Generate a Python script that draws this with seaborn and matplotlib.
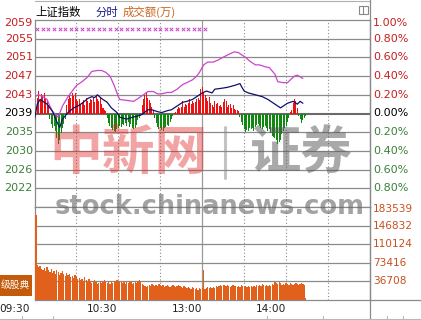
import matplotlib
matplotlib.use('Agg')
import numpy as np
import pandas as pd
import seaborn as sns
import matplotlib.pyplot as plt
from matplotlib.patches import Rectangle
import matplotlib.transforms as mtransforms

sns.set_theme(style='white')
plt.rcParams['font.family'] = ['DejaVu Sans', 'Noto Sans CJK SC']
plt.rcParams['axes.unicode_minus'] = False

# ---------------- data ----------------
title_parts = ['上证指数', '分时', '成交额(万)']
price_tick_pct = [1.0, 0.8, 0.6, 0.4, 0.2, 0.0, -0.2, -0.4, -0.6, -0.8]
price_tick_labels = ['2059', '2055', '2051', '2047', '2043', '2039', '2035', '2030', '2026', '2022']
pct_tick_labels = ['1.00%', '0.80%', '0.60%', '0.40%', '0.20%', '0.00%', '0.20%', '0.40%', '0.60%', '0.80%']
vol_ticks = [183539, 146832, 110124, 73416, 36708]
vol_tick_labels = ['183539', '146832', '110124', '73416', '36708']
time_tick_minutes = [0, 60, 120, 180]
time_tick_labels = ['09:30', '10:30', '13:00', '14:00']
button_text = '级股典'
watermark_cn_red = '中新网'
watermark_cn_gray = '证券'
watermark_url = 'stock.chinanews.com'

# index line (% change vs previous close), minutes after 09:30 (trading minutes)
index_min = [0, 2, 4, 6, 9, 11, 13, 16, 18, 20, 24, 28, 31, 35, 38, 41, 43, 45, 48, 52,
             55, 59, 61, 66, 70, 73, 77, 81, 84, 88, 91, 95, 98, 102, 106, 109, 113, 116,
             120, 123, 127, 129, 134, 138, 143, 147, 148, 150, 153, 158, 163, 167, 172,
             176, 178, 181, 185, 188, 190, 192]
index_pct = [-0.06, 0.10, 0.15, 0.13, 0.10, 0.06, 0.02, -0.09, -0.15, -0.06, 0.01, 0.06,
             0.08, 0.12, 0.16, 0.18, 0.17, 0.20, 0.16, 0.12, 0.06, 0.01, -0.04, -0.06,
             -0.04, -0.03, -0.01, 0.04, 0.04, 0.02, 0.01, 0.03, 0.04, 0.08, 0.12, 0.13,
             0.15, 0.18, 0.22, 0.24, 0.22, 0.26, 0.27, 0.28, 0.30, 0.32, 0.29, 0.24, 0.22,
             0.20, 0.18, 0.15, 0.10, 0.06, 0.08, 0.11, 0.13, 0.10, 0.13, 0.11]

# unweighted line (magenta)
avg_min = [0, 3, 6, 9, 11, 13, 15, 17, 20, 24, 28, 30, 34, 38, 41, 45, 48, 51, 54, 57,
           60, 61, 66, 71, 74, 78, 81, 85, 88, 91, 95, 98, 102, 106, 109, 113, 116, 118,
           121, 124, 128, 131, 136, 140, 143, 146, 148, 151, 154, 158, 161, 165, 168,
           172, 174, 178, 181, 183, 186, 188, 192]
avg_pct = [0.18, 0.20, 0.18, 0.15, 0.08, 0.02, -0.01, -0.04, 0.08, 0.18, 0.26, 0.30,
           0.34, 0.39, 0.45, 0.46, 0.46, 0.44, 0.40, 0.30, 0.18, 0.15, 0.14, 0.13, 0.16,
           0.20, 0.235, 0.235, 0.21, 0.21, 0.225, 0.225, 0.26, 0.31, 0.33, 0.36, 0.40,
           0.44, 0.52, 0.55, 0.55, 0.57, 0.61, 0.64, 0.66, 0.65, 0.63, 0.60, 0.56, 0.52,
           0.52, 0.50, 0.49, 0.42, 0.34, 0.33, 0.33, 0.36, 0.40, 0.41, 0.375]

# up/down strength bars (red > 0, green < 0), one per minute from 09:30
strength = [0.19, 0.17, 0.24, 0.15, 0.21, 0.18, 0.22, 0.16, 0.14, 0.09,
            -0.06, -0.11, -0.15, -0.13, -0.19, -0.26, -0.33, -0.28, -0.21, -0.15, -0.11, -0.06,
            0.09, 0.15, 0.20, 0.17, 0.22, 0.19, 0.22, 0.16, 0.13, 0.15, 0.10, 0.12, 0.14, 0.09,
            0.17, 0.13, 0.11, 0.15, 0.14, 0.17, 0.12, 0.20, 0.16, 0.13, 0.18, 0.10, 0.06, 0.04, 0.03,
            -0.05, -0.10, -0.13, -0.15, -0.18, -0.19, -0.20, -0.17, -0.15, -0.13, -0.14, -0.11,
            -0.12, -0.10, -0.13, -0.09, -0.14, -0.11, -0.15, -0.17, -0.16, -0.12, -0.07, -0.05, -0.03,
            0.09, 0.15, 0.20, 0.22, 0.17, 0.14, 0.11, 0.07, 0.04,
            -0.05, -0.10, -0.14, -0.17, -0.15, -0.18, -0.19, -0.16, -0.14, -0.12, -0.13, -0.09, -0.06, -0.03,
            0.01, 0.02, 0.05, 0.07, 0.06, 0.07, 0.13, 0.07, 0.10, 0.09, 0.11, 0.15, 0.10, 0.13,
            0.11, 0.12, 0.15, 0.17, 0.14, 0.26, 0.28, 0.22, 0.20, 0.17, 0.13, 0.18, 0.11, 0.09,
            0.07, 0.13, 0.10, 0.11, 0.08, 0.09, 0.07, 0.12, 0.15, 0.13, 0.07, 0.09, 0.10, 0.06,
            0.09, 0.05, 0.04, 0.04, 0.03,
            -0.04, -0.09, -0.12, -0.17, -0.20, -0.18, -0.19, -0.16, -0.17, -0.15, -0.19, -0.14,
            -0.12, -0.11, -0.13, -0.15, -0.17, -0.14, -0.13, -0.16, -0.19, -0.17, -0.21, -0.24,
            -0.25, -0.26, -0.28, -0.33, -0.30, -0.28, -0.22, -0.19, -0.16, -0.13, -0.09, -0.05,
            0.02, 0.04, 0.11, 0.15, 0.13, 0.06,
            -0.03, -0.06, -0.10, -0.07, -0.05, -0.03]

# turnover per minute (万)
turnover = [167700,
            69100, 65100, 67100, 61200, 59200, 63200, 57200, 65100, 59200, 55300,
            61200, 53300, 57200, 51300, 59200, 55300, 49300, 53300, 57200, 51300,
            47400, 53300, 49300, 51300, 45400, 47400, 43400, 49300, 45400, 41400,
            43400, 39500, 41400, 37500, 45400, 39500, 35500, 41400, 37500, 33500,
            35500, 39500, 35500, 31600, 33500, 37500, 33500, 35500, 39500, 35500,
            33500, 37500, 31600, 35500, 33500, 37500, 35500, 39500, 37500, 35500,
            37500, 33500, 35500, 31600, 35500, 33500, 37500, 35500, 31600, 33500,
            35500, 33500, 37500, 39500, 35500, 31600, 29600, 27600, 25700, 27600,
            29600, 27600, 31600, 29600, 27600,
            29600, 27600, 31600, 29600, 27600, 29600, 25700, 27600, 29600, 27600,
            25700, 27600, 29600, 27600, 25700, 27600, 29600, 27600, 25700, 23700,
            27600, 25700, 23700, 25700, 23700, 21700, 25700, 23700, 21700, 23700,
            19700, 23700, 21700, 23700,
            59200,
            21700, 23700, 25700, 23700, 25700, 23700, 25700, 23700, 27600, 25700,
            27600, 29600, 27600, 29600, 29600, 27600, 29600, 27600, 25700, 27600,
            29600, 27600, 27600, 25700, 27600, 25700, 29600, 27600, 25700, 27600,
            25700, 27600, 25700, 27600, 25700, 27600, 25700, 29600, 27600, 29600,
            27600, 31600, 29600, 27600, 29600, 27600, 29600, 27600, 31600, 29600,
            35500, 33500, 31600, 35500, 33500, 29600, 31600, 29600, 33500, 31600,
            29600, 33500, 31600, 29600, 31600, 33500, 31600, 29600, 31600, 33500,
            31600, 29600, 3900]

signal_minutes = [2, 6, 10, 14, 18, 22, 26, 30, 34, 38, 42, 46, 50, 54, 58, 62, 66, 70,
                  74, 78, 82, 86, 90, 94, 98, 102, 106, 110, 114, 118, 122]
signal_level = 0.905

# ---------------- styles ----------------
W, H = 421, 320
GRID = '#8a8a8a'
RED_TXT = '#c81e1e'
GREEN_TXT = '#3a803a'
VOL_TXT = '#c8501e'
NAVY = '#10106e'
MAGENTA = '#cc44cc'
BAR_RED = '#ee1111'
BAR_GREEN = '#118811'
VOL_COLOR = '#e0601c'
BAR_SHIFT = 1.0  # bars sit just right of their minute mark

fig = plt.figure(figsize=(W / 100, H / 100), dpi=100)
fig.patch.set_facecolor('white')


def px_axes(x0, y0, x1, y1, **kw):
    return fig.add_axes([x0 / W, 1 - y1 / H, (x1 - x0) / W, (y1 - y0) / H], **kw)


ax = px_axes(34.5, 20, 370, 207)
axv = px_axes(34.5, 207, 370, 300)

for a in (ax, axv):
    a.set_xlim(0, 240)
    a.set_xticks([])
    a.set_yticks([])
    a.set_facecolor('white')
    for s in a.spines.values():
        s.set_color(GRID)
        s.set_linewidth(0.9)
    for m in [30, 60, 90, 150, 180, 210]:
        a.axvline(m, color=GRID, lw=0.8, ls=(0, (1, 2)), zorder=1)
    a.axvline(120, color='#9a9a9a', lw=0.9, zorder=1)

ax.set_ylim(-1.0, 1.0)
axv.set_ylim(0, vol_ticks[0])

for p in price_tick_pct[1:]:
    if p == 0:
        ax.axhline(0, color='#6a6a6a', lw=1.5, zorder=1)
    else:
        ax.axhline(p, color=GRID, lw=0.9, zorder=1)
for v in vol_ticks[1:]:
    axv.axhline(v, color=GRID, lw=0.9, zorder=1)

# strength bars
minutes = np.arange(len(strength)) + BAR_SHIFT
colors = [BAR_RED if s > 0 else BAR_GREEN for s in strength]
ax.bar(minutes, strength, width=0.72, color=colors, linewidth=0, zorder=2)

# lines
sns.lineplot(x=avg_min, y=avg_pct, ax=ax, color=MAGENTA, lw=0.9, zorder=3)
sns.lineplot(x=index_min, y=index_pct, ax=ax, color=NAVY, lw=0.9, zorder=4)
ax.scatter(signal_minutes, [signal_level] * len(signal_minutes), marker='x',
           s=6, color=MAGENTA, linewidths=0.7, zorder=4)

# volume bars
vm = np.arange(len(turnover)) + BAR_SHIFT
axv.bar(vm, turnover, width=0.9, color=VOL_COLOR, linewidth=0, zorder=2.6)

# tick labels
ytr = ax.get_yaxis_transform()
for i, (p, lab, plab) in enumerate(zip(price_tick_pct, price_tick_labels, pct_tick_labels)):
    col = RED_TXT if p > 0 else ('black' if p == 0 else GREEN_TXT)
    tr_l = ytr
    if i == 0:
        tr_l = mtransforms.offset_copy(ytr, fig=fig, y=-2.0, units='points')
    ax.text(-0.005, p, lab, transform=tr_l, ha='right', va='center', fontsize=8,
            color=col, family='DejaVu Sans', clip_on=False)
    ax.text(1.009, p, plab, transform=tr_l, ha='left', va='center', fontsize=8,
            color=col, family='DejaVu Sans', clip_on=False)

vtr = axv.get_yaxis_transform()
for i, (v, lab) in enumerate(zip(vol_ticks, vol_tick_labels)):
    tr_v = vtr
    if i == 0:
        tr_v = mtransforms.offset_copy(vtr, fig=fig, y=-1.5, units='points')
    axv.text(1.009, v, lab, transform=tr_v, ha='left', va='center', fontsize=7.6,
             color=VOL_TXT, family='DejaVu Sans', clip_on=False)

# overlay for decorations (pixel coordinates)
deco = fig.add_axes([0, 0, 1, 1], zorder=10)
deco.set_xlim(0, W)
deco.set_ylim(H, 0)
deco.axis('off')
deco.patch.set_alpha(0)

px_per_min = (370 - 34.5) / 240
time_label_dx = [-4.5, -1.5, 0.5, 0.3]
for m, lab, dx in zip(time_tick_minutes, time_tick_labels, time_label_dx):
    deco.text(34.5 + m * px_per_min + dx, 308.5, lab, ha='right', va='center',
              fontsize=7.6, color='#222222', family='DejaVu Sans')

# header
cjk = ['Noto Sans CJK SC', 'DejaVu Sans']
deco.text(35, 12, title_parts[0], fontsize=8.2, color='black', family=cjk, va='center', ha='left')
deco.text(96, 12, title_parts[1], fontsize=8.2, color='#1a1a8c', family=cjk, va='center', ha='left')
deco.text(123, 12, title_parts[2], fontsize=8.2, color='#c8641e', family=cjk, va='center', ha='left')
deco.add_patch(Rectangle((358.5, 5.5), 9, 8.5, fill=False, ec='#888888', lw=0.8))
deco.plot([363, 363], [5.5, 14], color='#888888', lw=0.8)

# frame extras
deco.plot([34.5, 370], [0.5, 0.5], color='#b0b0b0', lw=0.8)
deco.plot([370, 370], [0, H], color=GRID, lw=0.9)
deco.plot([370, W], [300, 300], color=GRID, lw=0.9)
deco.plot([0, W], [318.5, 318.5], color='#b8b8b8', lw=0.8)
for xt in [22, 53, 267, 323, 387, 403]:
    deco.plot([xt, xt], [316, 320], color='#b8b8b8', lw=0.8)

# button
deco.add_patch(Rectangle((0, 274.5), 32, 21, color='#c35a0c', lw=0, zorder=5))
deco.text(0.8, 285, button_text, ha='left', va='center', fontsize=7, color='white',
          family=cjk, zorder=6)

# watermarks
deco.text(128, 153, watermark_cn_red, ha='center', va='center', fontsize=38,
          fontweight='bold', color='#e02828', alpha=0.42, family=cjk)
deco.plot([225, 225], [127, 178], color='#888888', lw=2.2, alpha=0.5)
deco.text(301, 153, watermark_cn_gray, ha='center', va='center', fontsize=37,
          fontweight='bold', color='#555555', alpha=0.5, family=cjk)
deco.text(210, 207, watermark_url, ha='center', va='center', fontsize=18.5,
          fontweight='bold', color='#666666', alpha=0.6, family='DejaVu Sans')

fig.savefig('out.png', dpi=100, facecolor='white')
